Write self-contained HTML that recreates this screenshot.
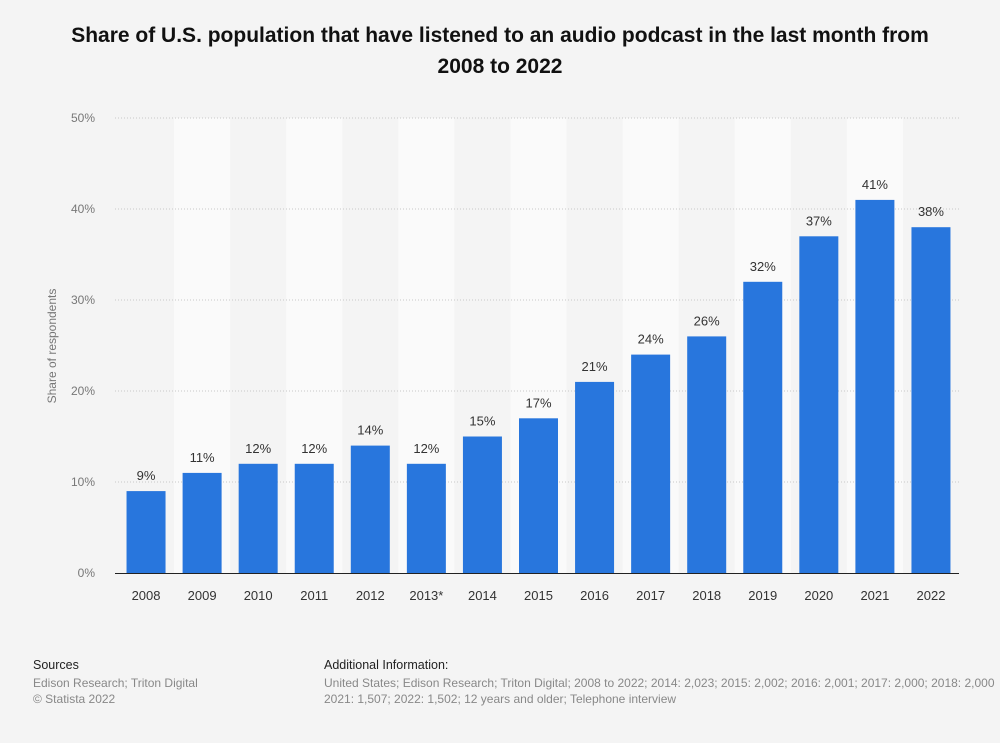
<!DOCTYPE html>
<html><head><meta charset="utf-8"><style>
body{margin:0;width:1000px;height:743px;background:#f4f4f4;font-family:"Liberation Sans",sans-serif;overflow:hidden;position:relative}
.t{position:absolute;white-space:nowrap}
</style></head><body>
<div class="t" style="left:0;width:1000px;top:20px;text-align:center;font-weight:bold;font-size:21px;line-height:31px;color:#111;white-space:normal">Share of U.S. population that have listened to an audio podcast in the last month from<br>2008 to 2022</div>
<svg id="c" width="1000" height="743" style="position:absolute;left:0;top:0"></svg>
<div class="t" style="left:33px;top:658px;font-size:12.5px;color:#222">Sources</div>
<div class="t" style="left:33px;top:675px;font-size:12px;color:#888;line-height:16px">Edison Research; Triton Digital<br>© Statista 2022</div>
<div class="t" style="left:324px;top:658px;font-size:12.5px;color:#222">Additional Information:</div>
<div class="t" style="left:324px;top:675px;font-size:12px;color:#888;line-height:16px">United States; Edison Research; Triton Digital; 2008 to 2022; 2014: 2,023; 2015: 2,002; 2016: 2,001; 2017: 2,000; 2018: 2,000<br>2021: 1,507; 2022: 1,502; 12 years and older; Telephone interview</div>
<script>
const categories=["2008","2009","2010","2011","2012","2013*","2014","2015","2016","2017","2018","2019","2020","2021","2022"];
const values=[9,11,12,12,14,12,15,17,21,24,26,32,37,41,38];
const yTicks=[0,10,20,30,40,50];
const ns="http://www.w3.org/2000/svg",svg=document.getElementById('c');
const X0=118,X1=959,Y0=573,Y1=118,YMAX=50;
const bw=(X1-X0)/categories.length;
const y=v=>Y0-(v/YMAX)*(Y0-Y1);
const x=i=>X0+i*bw;
function mk(t,a){const e=document.createElementNS(ns,t);for(const k in a)e.setAttribute(k,a[k]);svg.appendChild(e);return e;}
categories.forEach((c,i)=>{if(i%2==1){const r=mk('rect',{x:x(i),y:Y1,width:bw,height:Y0-Y1,fill:'#fafafa'});

}});
yTicks.forEach(v=>{if(v>0){const l=mk('line',{x1:115,x2:X1,y1:y(v),y2:y(v),stroke:'#c8c8c8','stroke-dasharray':'1,2'});

}
const t=mk('text',{x:95,y:y(v)+4,'text-anchor':'end','font-size':12,fill:'#777'});t.textContent=v+'%';

});
categories.forEach((c,i)=>{const cx=x(i)+bw/2;
const r=mk('rect',{x:cx-19.5,y:y(values[i]),width:39,height:Y0-y(values[i]),fill:'#2876dd'});


const v=mk('text',{x:cx,y:y(values[i])-11,'text-anchor':'middle','font-size':13,fill:'#333'});v.textContent=values[i]+'%';


const t=mk('text',{x:cx,y:Y0+27,'text-anchor':'middle','font-size':13,fill:'#333'});t.textContent=c;

});
const ax=mk('line',{x1:115,x2:X1,y1:Y0+.5,y2:Y0+.5,stroke:'#222','stroke-width':1});


const yt=mk('text',{x:0,y:0,'text-anchor':'middle','font-size':12,fill:'#777',transform:'translate(56,346) rotate(-90)'});yt.textContent='Share of respondents';


</script>
</body></html>
